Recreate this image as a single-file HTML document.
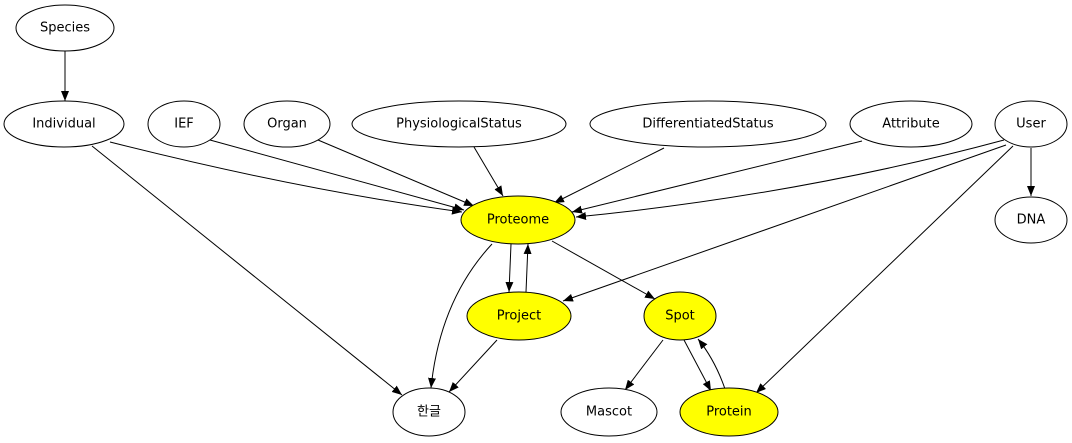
<!DOCTYPE html>
<html><head><meta charset="utf-8"><style>
html,body{margin:0;padding:0;background:#fff;}
svg{display:block}
text{font-family:"DejaVu Sans","Liberation Sans","Noto Sans CJK KR",sans-serif;font-size:13px;text-anchor:middle;dominant-baseline:central;fill:#000}
ellipse{stroke:#000;stroke-width:1;fill:#fff}
.y{fill:#ffff00}
path{fill:none;stroke:#000;stroke-width:1}
</style></head><body>
<svg width="1072" height="443" viewBox="0 0 1072 443">
<defs><marker id="a" markerWidth="10" markerHeight="8" refX="10" refY="4" orient="auto" markerUnits="userSpaceOnUse"><polygon points="0,0 10,4 0,8" fill="#000"/></marker></defs>
<g marker-end="url(#a)">
<path d="M65,51 L65,101"/>
<path d="M110,142 Q300,190 462,212"/>
<path d="M210,140 L464,210"/>
<path d="M318,140 L474,206"/>
<path d="M474,147 L503,196"/>
<path d="M664,148 L554,203"/>
<path d="M862,141 L572,212"/>
<path d="M1004,140 Q800,195 576,217"/>
<path d="M1031,148 L1031,196"/>
<path d="M1006,145 L563,301"/>
<path d="M1013,146 L756,393"/>
<path d="M92,146 L402,395"/>
<path d="M492,244 Q440,300 431,388"/>
<path d="M511,244 L509,292"/>
<path d="M526,292 L528,244"/>
<path d="M552,241 L655,299"/>
<path d="M497,340 L449,392"/>
<path d="M663,340 L625,390"/>
<path d="M684,340 L711,391"/>
<path d="M725,389 Q715,360 698,339"/>
</g>
<ellipse cx="65" cy="28" rx="49" ry="23"/><text x="65" y="28">Species</text>
<ellipse cx="64" cy="124" rx="60" ry="23"/><text x="64" y="124">Individual</text>
<ellipse cx="184" cy="124" rx="36" ry="23"/><text x="184" y="124">IEF</text>
<ellipse cx="287" cy="124" rx="43" ry="23"/><text x="287" y="124">Organ</text>
<ellipse cx="459" cy="124" rx="107" ry="23"/><text x="459" y="124">PhysiologicalStatus</text>
<ellipse cx="708" cy="124" rx="118" ry="23"/><text x="708" y="124">DifferentiatedStatus</text>
<ellipse cx="911" cy="124" rx="61" ry="23"/><text x="911" y="124">Attribute</text>
<ellipse cx="1031" cy="124" rx="36" ry="23"/><text x="1031" y="124">User</text>
<ellipse cx="1031" cy="220" rx="36" ry="23"/><text x="1031" y="220">DNA</text>
<ellipse class="y" cx="518" cy="220" rx="57" ry="24"/><text x="518" y="220">Proteome</text>
<ellipse class="y" cx="519" cy="316" rx="52" ry="24"/><text x="519" y="316">Project</text>
<ellipse class="y" cx="680" cy="316" rx="36" ry="24"/><text x="680" y="316">Spot</text>
<ellipse cx="429" cy="412" rx="36" ry="24"/><text x="429" y="412">한글</text>
<ellipse cx="609" cy="412" rx="48" ry="24"/><text x="609" y="412">Mascot</text>
<ellipse class="y" cx="729" cy="412" rx="49" ry="24"/><text x="729" y="412">Protein</text>
</svg>
</body></html>
